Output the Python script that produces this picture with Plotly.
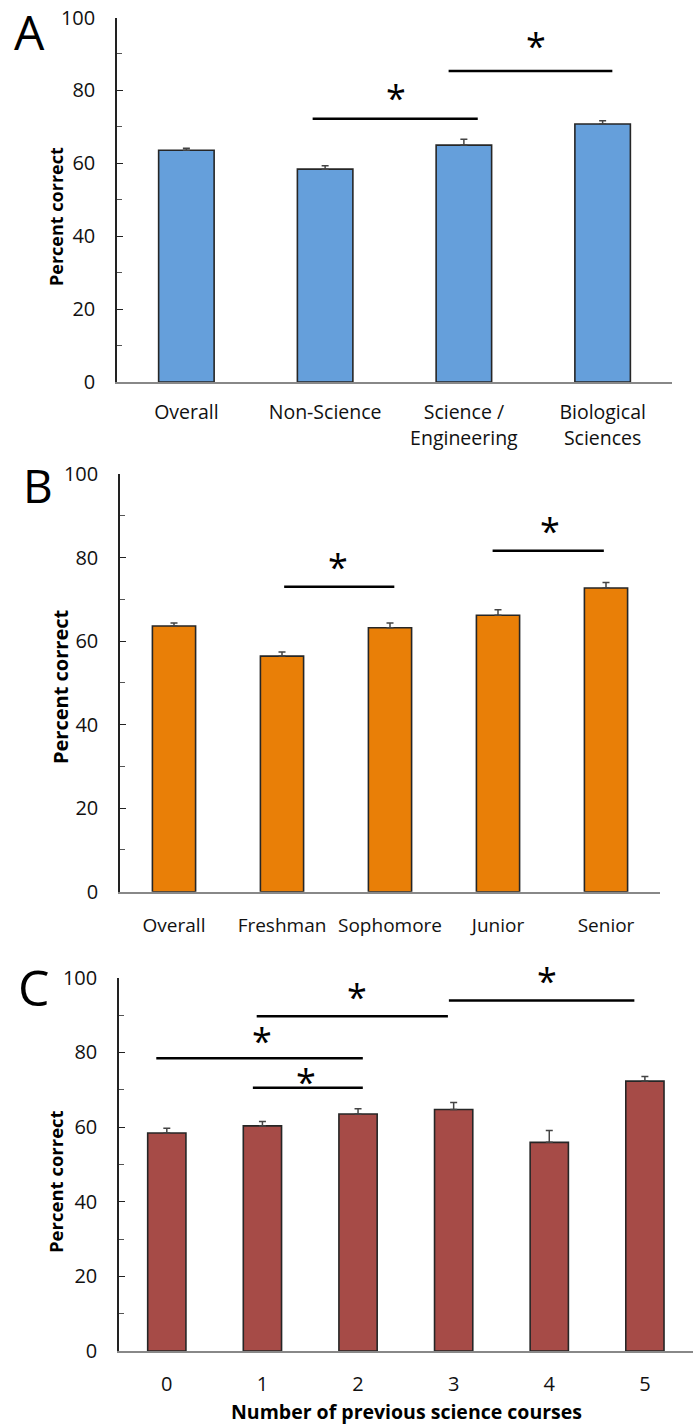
import plotly.graph_objects as go

# ---------------- data ----------------
a_categories = ["Overall", "Non-Science", "Science /<br>Engineering", "Biological<br>Sciences"]
a_values = [63.6, 58.4, 65.0, 70.8]
a_errors = [0.5, 0.9, 1.6, 0.9]

b_categories = ["Overall", "Freshman", "Sophomore", "Junior", "Senior"]
b_values = [63.6, 56.4, 63.2, 66.2, 72.7]
b_errors = [0.7, 1.0, 1.1, 1.3, 1.3]

c_categories = ["0", "1", "2", "3", "4", "5"]
c_values = [58.4, 60.3, 63.5, 64.7, 55.9, 72.3]
c_errors = [1.3, 1.2, 1.4, 1.9, 3.2, 1.2]

y_tick_values = [0, 20, 40, 60, 80, 100]

# significance brackets: start, end (category index), height (percent)
a_sig_lines = [(0.91, 2.10, 72.2), (1.89, 3.07, 85.3)]
a_sig_stars = [(1.51, 78.9), (2.52, 93.2)]
b_sig_lines = [(1.02, 2.04, 73.0), (2.95, 3.98, 81.6)]
b_sig_stars = [(1.52, 78.6), (3.48, 87.2)]
c_sig_lines = [(0.94, 2.94, 89.7), (2.95, 4.89, 93.9), (-0.11, 2.05, 78.4), (0.90, 2.05, 70.5)]
c_sig_stars = [(1.99, 95.7), (3.98, 100.1), (1.00, 84.0), (1.46, 72.9)]

# ---------------- style ----------------
FONT = "Open Sans"
W, H = 699, 1424
colors = ["#659fdb", "#e97f07", "#a64b47"]

def px_x(p):
    return p / W

def px_y(p):
    return 1 - p / H

panels = [
    dict(cats=a_categories, vals=a_values, errs=a_errors, lines=a_sig_lines, stars=a_sig_stars,
         xdom=(117, 672), ydom=(17.5, 382), color=colors[0], letter="A", letter_pos=(29, 31.5),
         letter_size=48, ytitle_pos=(56, 217), ytitle_size=18, xtick_size=19.5, xstand=12),
    dict(cats=b_categories, vals=b_values, errs=b_errors, lines=b_sig_lines, stars=b_sig_stars,
         xdom=(120, 660), ydom=(474, 891.7), color=colors[1], letter="B", letter_pos=(38, 485),
         letter_size=46, ytitle_pos=(60, 687), ytitle_size=20, xtick_size=19, xstand=16),
    dict(cats=c_categories, vals=c_values, errs=c_errors, lines=c_sig_lines, stars=c_sig_stars,
         xdom=(119, 692.7), ydom=(977.7, 1351), color=colors[2], letter="C", letter_pos=(34, 987),
         letter_size=50, ytitle_pos=(55, 1182), ytitle_size=18.5, xtick_size=20, xstand=14),
]

fig = go.Figure()
shapes = []
annotations = []
layout = dict(
    template="none",
    width=W, height=H, margin=dict(l=0, r=0, t=0, b=0, pad=0, autoexpand=False),
    paper_bgcolor="white", plot_bgcolor="white", showlegend=False,
    font=dict(family=FONT, color="#111"),
)

for i, p in enumerate(panels):
    n = i + 1
    xa = "x" if n == 1 else f"x{n}"
    ya = "y" if n == 1 else f"y{n}"
    xkey = "xaxis" if n == 1 else f"xaxis{n}"
    ykey = "yaxis" if n == 1 else f"yaxis{n}"
    idx = list(range(len(p["cats"])))
    fig.add_trace(go.Bar(
        x=idx, y=p["vals"], width=0.4,
        marker=dict(color=p["color"], line=dict(color="#262626", width=1.6)),
        error_y=dict(type="data", array=p["errs"], arrayminus=[0] * len(p["errs"]),
                     symmetric=False, color="#444", thickness=1.5, width=3.5),
        xaxis=xa, yaxis=ya, hoverinfo="skip",
    ))
    layout[xkey] = dict(
        domain=[px_x(p["xdom"][0]), px_x(p["xdom"][1])], anchor=ya, automargin=False,
        range=[-0.5, len(idx) - 0.5], tickvals=idx, ticktext=p["cats"],
        showline=True, linecolor="#888", linewidth=1.5, ticks="", showgrid=False,
        zeroline=False, tickfont=dict(size=p["xtick_size"], family=FONT, color="#111"),
        ticklabelstandoff=p["xstand"], ticklabeloverflow="allow", fixedrange=True,
    )
    layout[ykey] = dict(
        domain=[px_y(p["ydom"][1]), px_y(p["ydom"][0])], anchor=xa, automargin=False,
        range=[0, 100], tickvals=y_tick_values, showline=True, linecolor="#222",
        linewidth=1.5, ticks="inside", ticklen=6, tickwidth=1.2, tickcolor="#222",
        minor=dict(ticks="inside", dtick=10, ticklen=5, tickwidth=1.2, tickcolor="#555"),
        showgrid=False, zeroline=False,
        tickfont=dict(size=20, family=FONT, color="#111"),
        ticklabelstandoff=16, ticklabeloverflow="allow", fixedrange=True,
    )
    for (x0, x1, yv) in p["lines"]:
        shapes.append(dict(type="line", xref=xa, yref=ya, x0=x0, x1=x1, y0=yv, y1=yv,
                           line=dict(color="black", width=2.5)))
    for (xs, ys) in p["stars"]:
        annotations.append(dict(text="*", xref=xa, yref=f"{ya} domain", x=xs, y=ys / 100.0,
                                showarrow=False, xanchor="center", yanchor="middle", yshift=-3,
                                font=dict(size=36, family=FONT, color="black")))
    annotations.append(dict(text=p["letter"], xref="paper", yref="paper",
                            x=px_x(p["letter_pos"][0]), y=px_y(p["letter_pos"][1]),
                            showarrow=False, xanchor="center", yanchor="middle",
                            font=dict(size=p["letter_size"], family=FONT, color="black")))
    annotations.append(dict(text="<b>Percent correct</b>", xref="paper", yref="paper",
                            x=px_x(p["ytitle_pos"][0]), y=px_y(p["ytitle_pos"][1]),
                            showarrow=False, textangle=-90, xanchor="center", yanchor="middle",
                            font=dict(size=p["ytitle_size"], family=FONT, color="black")))

annotations.append(dict(text="<b>Number of previous science courses</b>", xref="paper", yref="paper",
                        x=px_x(406), y=px_y(1411), showarrow=False, xanchor="center",
                        yanchor="middle", font=dict(size=19.5, family=FONT, color="black")))

layout["shapes"] = shapes
layout["annotations"] = annotations
fig.update_layout(**layout)
fig.write_html("out.html", config={"displayModeBar": False},
               post_script="document.body.style.margin='0px';")
